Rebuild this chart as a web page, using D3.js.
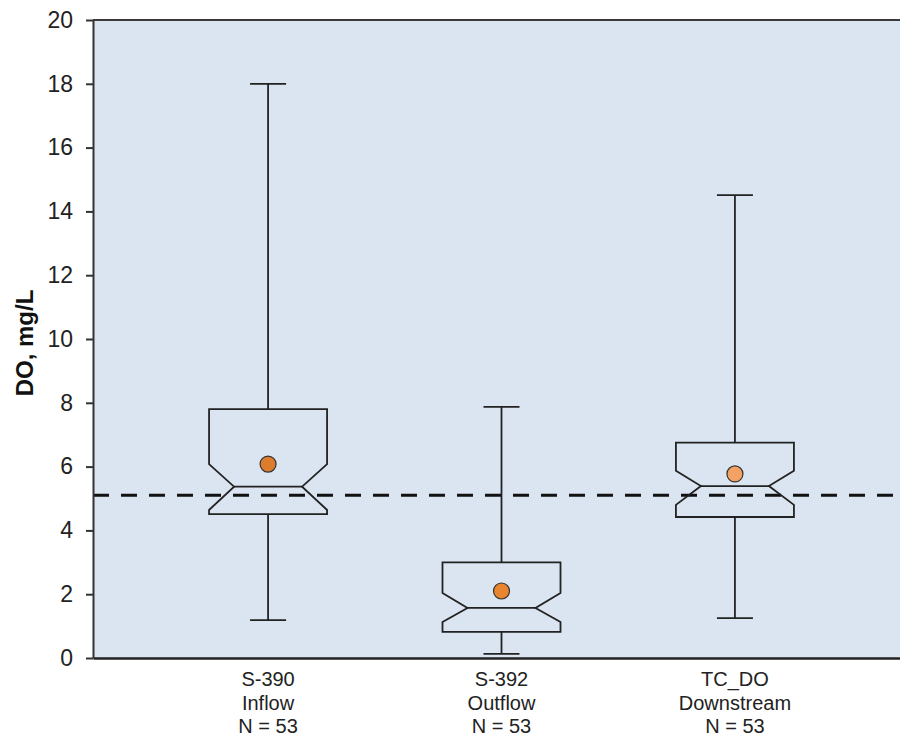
<!DOCTYPE html>
<html>
<head>
<meta charset="utf-8">
<script src="https://cdn.jsdelivr.net/npm/d3@7"></script>
<style>
  html, body { margin: 0; padding: 0; background: #ffffff; }
  svg { display: block; font-family: "Liberation Sans", Arial, sans-serif; }
</style>
</head>
<body>
<svg id="chart" width="900" height="740"></svg>
<script>
// ---- data ----
const categories = ["S-390", "S-392", "TC_DO"];
const subLabels = ["Inflow", "Outflow", "Downstream"];
const counts = [53, 53, 53];
const whiskerLow = [1.19, 0.13, 1.25];
const q1 = [4.51, 0.82, 4.42];
const notchLow = [4.64, 1.13, 4.80];
const median = [5.37, 1.57, 5.39];
const notchHigh = [6.08, 2.04, 5.87];
const q3 = [7.80, 3.00, 6.75];
const whiskerHigh = [18.0, 7.87, 14.51];
const means = [6.08, 2.10, 5.77];
const threshold = 5.1;
const yTicks = [0, 2, 4, 6, 8, 10, 12, 14, 16, 18, 20];

// ---- layout ----
const svg = d3.select("#chart");
const plotLeft = 93, plotTop = 20, plotBottom = 658;
const x = d3.scaleLinear().domain([0.25, 3.75]).range([plotLeft, 910]);
const y = d3.scaleLinear().domain([0, 20]).range([plotBottom, plotTop]);
const boxHalf = 59, notchHalf = 34, capHalf = 18;
const meanColors = ["#dc7d2e", "#e8862f", "#f4a264"];

// background
svg.append("rect").attr("x", plotLeft).attr("y", plotTop)
  .attr("width", 900 - plotLeft).attr("height", plotBottom - plotTop)
  .attr("fill", "#dbe5f1");

// threshold dashed line
svg.append("line")
  .attr("x1", plotLeft).attr("x2", 900)
  .attr("y1", y(threshold)).attr("y2", y(threshold))
  .attr("stroke", "#111").attr("stroke-width", 3)
  .attr("stroke-dasharray", "16,12");

const data = categories.map((c, i) => ({
  c, i, pos: i + 1,
  wl: whiskerLow[i], q1: q1[i], nl: notchLow[i], med: median[i],
  nh: notchHigh[i], q3: q3[i], wh: whiskerHigh[i], mean: means[i]
}));

const g = svg.append("g");
data.forEach(d => {
  const cx = x(d.pos);
  const stroke = "#222", sw = 1.8;
  // whiskers
  g.append("line").attr("x1", cx).attr("x2", cx).attr("y1", y(d.q3)).attr("y2", y(d.wh))
    .attr("stroke", stroke).attr("stroke-width", sw);
  g.append("line").attr("x1", cx).attr("x2", cx).attr("y1", y(d.q1)).attr("y2", y(d.wl))
    .attr("stroke", stroke).attr("stroke-width", sw);
  g.append("line").attr("x1", cx - capHalf).attr("x2", cx + capHalf).attr("y1", y(d.wh)).attr("y2", y(d.wh))
    .attr("stroke", stroke).attr("stroke-width", sw);
  g.append("line").attr("x1", cx - capHalf).attr("x2", cx + capHalf).attr("y1", y(d.wl)).attr("y2", y(d.wl))
    .attr("stroke", stroke).attr("stroke-width", sw);
  // notched box
  const pts = [
    [cx - boxHalf, y(d.q3)], [cx + boxHalf, y(d.q3)],
    [cx + boxHalf, y(d.nh)], [cx + notchHalf, y(d.med)],
    [cx + boxHalf, y(d.nl)], [cx + boxHalf, y(d.q1)],
    [cx - boxHalf, y(d.q1)], [cx - boxHalf, y(d.nl)],
    [cx - notchHalf, y(d.med)], [cx - boxHalf, y(d.nh)]
  ];
  g.append("path").attr("d", d3.line()(pts) + "Z")
    .attr("fill", "none").attr("stroke", stroke).attr("stroke-width", sw)
    .attr("stroke-linejoin", "miter");
  // median
  g.append("line").attr("x1", cx - notchHalf).attr("x2", cx + notchHalf)
    .attr("y1", y(d.med)).attr("y2", y(d.med))
    .attr("stroke", stroke).attr("stroke-width", sw);
  // mean
  g.append("circle").attr("cx", cx).attr("cy", y(d.mean)).attr("r", 8)
    .attr("fill", meanColors[d.i]).attr("stroke", "#333").attr("stroke-width", 1.2);
});

// frame: top border
svg.append("line").attr("x1", plotLeft).attr("x2", 900).attr("y1", plotTop).attr("y2", plotTop)
  .attr("stroke", "#3a3a3a").attr("stroke-width", 2);

// y axis
const yAxis = d3.axisLeft(y).tickValues(yTicks).tickSize(7).tickPadding(13).tickSizeOuter(0);
const ya = svg.append("g").attr("transform", `translate(${plotLeft},0)`).call(yAxis);
ya.select(".domain").attr("stroke", "#333").attr("stroke-width", 2);
ya.selectAll(".tick line").attr("stroke", "#333").attr("stroke-width", 2);
ya.selectAll(".tick text").attr("font-size", 23).attr("fill", "#222")
  .attr("font-family", "'Liberation Sans', Arial, sans-serif");

// bottom axis line
const xAxis = d3.axisBottom(x).tickValues([]).tickSizeOuter(0);
const xa = svg.append("g").attr("transform", `translate(0,${plotBottom})`).call(xAxis);
xa.select(".domain").attr("stroke", "#222").attr("stroke-width", 2.5);

// category labels
data.forEach(d => {
  const cx = x(d.pos);
  const lines = [d.c, subLabels[d.i], "N = " + counts[d.i]];
  lines.forEach((t, k) => {
    svg.append("text").attr("x", cx).attr("y", 686 + k * 23.5)
      .attr("text-anchor", "middle").attr("font-size", 20).attr("fill", "#222")
      .text(t);
  });
});

// y label
svg.append("text")
  .attr("transform", "translate(24,343) rotate(-90)")
  .attr("text-anchor", "middle").attr("dominant-baseline", "central")
  .attr("font-size", 24).attr("font-weight", "bold").attr("fill", "#111")
  .text("DO, mg/L");
</script>
</body>
</html>
